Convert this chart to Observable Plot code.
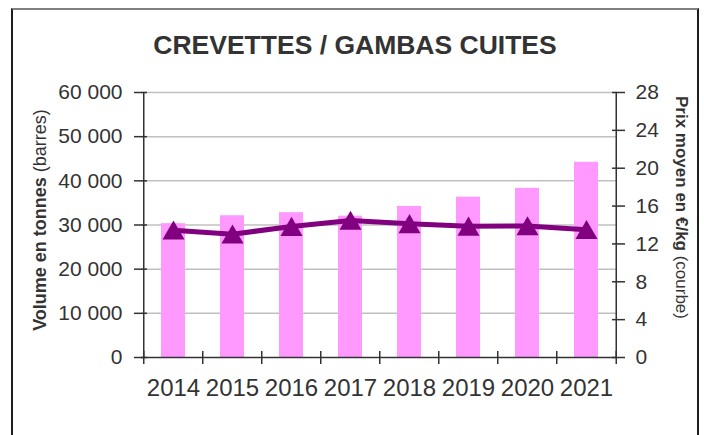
<!DOCTYPE html>
<html><head><meta charset="utf-8">
<script src="https://cdn.jsdelivr.net/npm/d3@7"></script>
<script src="https://cdn.jsdelivr.net/npm/@observablehq/plot@0.6"></script>
<style>
html,body{margin:0;padding:0;background:#fff;}
body{width:704px;height:435px;overflow:hidden;position:relative;font-family:"Liberation Sans",Arial,sans-serif;}
#title{height:70px;box-sizing:border-box;padding-top:31px;padding-left:6px;width:704px;text-align:center;font-weight:bold;font-size:26.5px;line-height:28px;color:#333;}
#frame{position:absolute;left:11px;top:8px;width:688px;height:440px;box-sizing:border-box;border-top:2px solid #808080;border-left:2px solid #1e1e1e;border-right:2px solid #1e1e1e;pointer-events:none;}
</style></head>
<body>
<div id="title">CREVETTES / GAMBAS CUITES</div>
<div id="chart"></div>
<div id="frame"></div>
<script>
const years = ["2014", "2015", "2016", "2017", "2018", "2019", "2020", "2021"];
const volumes = [30300, 32100, 32800, 32000, 34200, 36300, 38300, 44200];
const prices = [13.45, 13.03, 13.84, 14.48, 14.13, 13.86, 13.9, 13.5];
const volumeTicks = [0, 10000, 20000, 30000, 40000, 50000, 60000];
const priceTicks = [0, 4, 8, 12, 16, 20, 24, 28];
const volumeMax = 60000, priceMax = 28;

const k = volumeMax / priceMax;
const data = years.map((y, i) => ({year: y, volume: volumes[i], price: prices[i], priceScaled: prices[i] * k}));
const W = 704, H = 365, mL = 141, mR = 87, mT = 22, mB = 78;
const step = (W - mL - mR) / years.length;
const fmt = v => d3.format(",")(v).replace(/,/g, " ");
const ink = "#333";

const plot = Plot.plot({
  width: W, height: H, marginTop: mT, marginBottom: mB, marginLeft: mL, marginRight: mR,
  style: {background: "transparent", fontFamily: "Liberation Sans, Arial, sans-serif", color: ink, overflow: "visible"},
  x: {type: "band", domain: years, paddingInner: 0.6, paddingOuter: 0.3, axis: null, label: null},
  y: {domain: [0, volumeMax], axis: null, label: null},
  marks: [
    Plot.gridY(volumeTicks.slice(1), {stroke: "#c0c0c0", strokeOpacity: 1, strokeWidth: 1.5}),
    Plot.barY(data, {x: "year", y: "volume", fill: "#ff99ff"}),
    Plot.ruleY([0], {stroke: ink, strokeWidth: 1.5}),
    Plot.ruleX([years[0]], {y1: 0, y2: volumeMax, dx: -step / 2, stroke: ink, strokeWidth: 1.5}),
    Plot.ruleX([years[years.length - 1]], {y1: 0, y2: volumeMax, dx: step / 2, stroke: ink, strokeWidth: 1.5}),
    Plot.axisY(volumeTicks, {anchor: "left", tickSize: 13, dx: 6, tickFormat: () => "", stroke: ink, strokeWidth: 1.5, label: null}),
    Plot.axisY(volumeTicks, {anchor: "left", tickSize: 0, tickPadding: 19, tickFormat: fmt, fontSize: 21, fill: ink, label: null}),
    Plot.axisY(priceTicks.map(p => p * k), {anchor: "right", tickSize: 13, dx: -6, tickFormat: () => "", stroke: ink, strokeWidth: 1.5, label: null}),
    Plot.axisY(priceTicks.map(p => p * k), {anchor: "right", tickSize: 0, tickPadding: 18, tickFormat: v => String(Math.round(v / k)), fontSize: 21, fill: ink, label: null}),
    Plot.axisX(years, {anchor: "bottom", tickSize: 13, dy: -6, dx: -step / 2, tickFormat: () => "", stroke: ink, strokeWidth: 1.5, label: null}),
    Plot.axisX([years[years.length - 1]], {anchor: "bottom", tickSize: 13, dy: -6, dx: step / 2, tickFormat: () => "", stroke: ink, strokeWidth: 1.5, label: null}),
    Plot.axisX(years, {anchor: "bottom", tickSize: 0, tickPadding: 21, fontSize: 24, fill: ink, label: null}),
    Plot.line(data, {x: "year", y: "priceScaled", stroke: "#800080", strokeWidth: 5}),
    Plot.dot(data, {x: "year", y: "priceScaled", symbol: "triangle", r: 8.2, fill: "#800080", stroke: "none", dy: 3})
  ]
});
document.getElementById("chart").appendChild(plot);

const svg = d3.select(plot);
const left = svg.append("text")
  .attr("transform", "translate(40,150) rotate(-90)")
  .attr("text-anchor", "middle").attr("dominant-baseline", "central")
  .attr("fill", ink).attr("font-size", 18);
left.append("tspan").attr("font-weight", "bold").text("Volume en tonnes");
left.append("tspan").text(" (barres)");
const right = svg.append("text")
  .attr("transform", "translate(682,137.5) rotate(90)")
  .attr("text-anchor", "middle").attr("dominant-baseline", "central")
  .attr("fill", ink).attr("font-size", 17);
right.append("tspan").attr("font-weight", "bold").text("Prix moyen en €/kg");
right.append("tspan").text(" (courbe)");
</script>
</body></html>
